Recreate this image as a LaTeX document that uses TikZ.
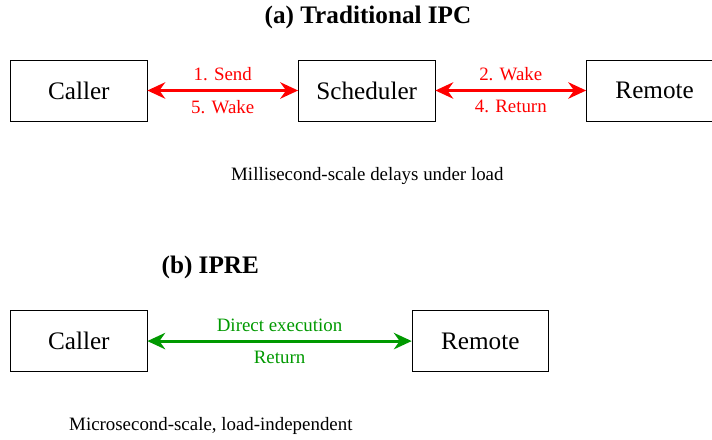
\documentclass[tikz,border=0pt]{standalone}
\usepackage{fontspec}
\setmainfont{Liberation Serif}
\usetikzlibrary{arrows.meta}

\begin{document}
\begin{tikzpicture}[
    >={Stealth[length=8.5pt, width=7.8pt]},
    proc/.style={rectangle, draw, minimum width=2.28cm, minimum height=1.02cm, inner xsep=8.5pt, font=\large},
    title/.style={font=\large\bfseries},
    note/.style={font=\small},
    redlink/.style={<->, line width=1.4pt, red},
    greenlink/.style={<->, line width=1.4pt, green!60!black},
    lbl/.style={font=\small, midway},
]

\useasboundingbox (0,0) rectangle (11.92,-7.35);

% (a) Traditional IPC
\node[title] (titleA) at (6.16,-0.30) {(a) Traditional IPC};

\node[proc] (callerA) at (1.32,-1.515) {Caller};
\node[proc] (sched) at (6.14,-1.515) {Scheduler};
\node[proc] (remoteA) at (10.96,-1.515) {Remote};

\draw[redlink] (callerA) -- (sched)
    node[lbl, red, yshift=0.27cm] {1. Send}
    node[lbl, red, yshift=-0.27cm] {5. Wake};
\draw[redlink] (sched) -- (remoteA)
    node[lbl, red, yshift=0.27cm] {2. Wake}
    node[lbl, red, yshift=-0.27cm] {4. Return};

\node[note] (noteA) at (6.15,-2.95) {Millisecond-scale delays under load};

% (b) IPRE
\node[title] (titleB) at (3.52,-4.48) {(b) IPRE};

\node[proc] (callerB) at (1.32,-5.71) {Caller};
\node[proc] (remoteB) at (8.04,-5.71) {Remote};

\draw[greenlink] (callerB) -- (remoteB)
    node[lbl, green!60!black, yshift=0.27cm] {Direct execution}
    node[lbl, green!60!black, yshift=-0.27cm] {Return};

\node[note] (noteB) at (3.53,-7.13) {Microsecond-scale, load-independent};

\end{tikzpicture}
\end{document}
